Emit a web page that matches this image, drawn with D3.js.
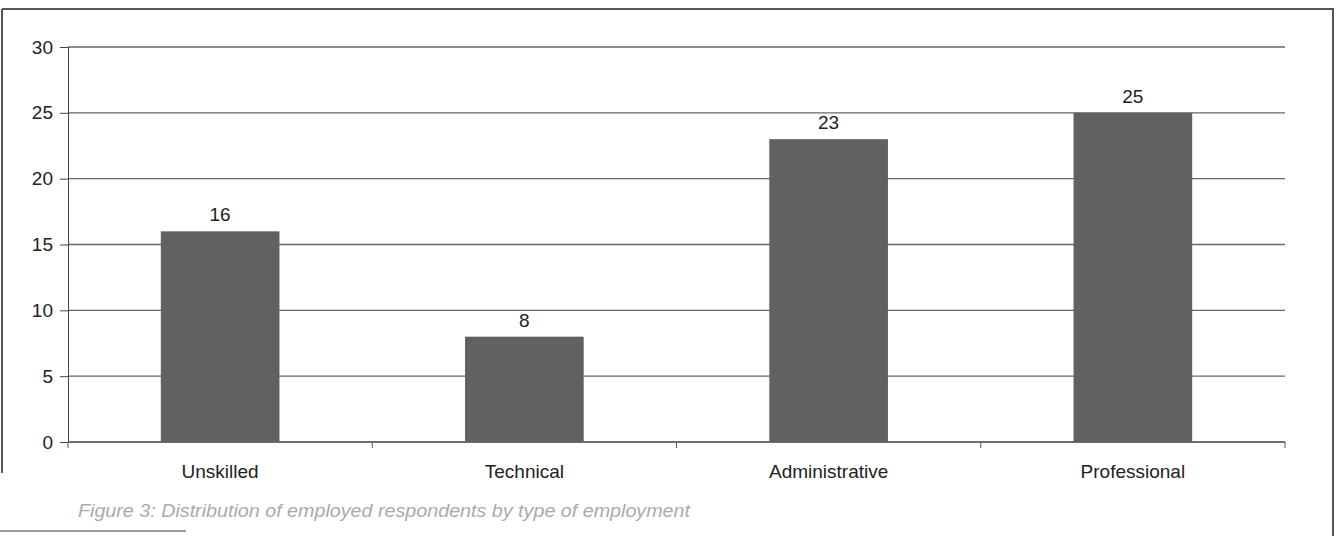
<!DOCTYPE html>
<html><head><meta charset="utf-8">
<script src="https://cdn.jsdelivr.net/npm/d3@7"></script>
<style>body{margin:0;background:#fff;}svg{display:block;font-family:"Liberation Sans",Arial,sans-serif;}</style>
</head><body><svg id="c" width="1341" height="536"></svg>
<script>
const categories = ["Unskilled","Technical","Administrative","Professional"];
const values = [16, 8, 23, 25];
const yTicks = [0,5,10,15,20,25,30];
const caption = "Figure 3: Distribution of employed respondents by type of employment";

const svg = d3.select("#c");
const m = {l:68, r:1285, t:47, b:442};
// frame
svg.append("line").attr("x1",2).attr("x2",1334).attr("y1",9).attr("y2",9).attr("stroke","#555").attr("stroke-width",2);
svg.append("line").attr("x1",2).attr("x2",2).attr("y1",9).attr("y2",473).attr("stroke","#555").attr("stroke-width",2);
svg.append("line").attr("x1",1333).attr("x2",1333).attr("y1",9).attr("y2",536).attr("stroke","#555").attr("stroke-width",2);
svg.append("line").attr("x1",0).attr("x2",186).attr("y1",531).attr("y2",531).attr("stroke","#777").attr("stroke-width",1.5);

const x = d3.scaleBand().domain(categories).range([m.l, m.r]).paddingInner(0.61).paddingOuter(0.305);
const xb = d3.scaleBand().domain(categories).range([m.l, m.r]);
const y = d3.scaleLinear().domain([0,30]).range([m.b, m.t]);

// gridlines
svg.append("g").selectAll("line").data(yTicks).join("line")
  .attr("x1",m.l).attr("x2",m.r).attr("y1",d=>y(d)).attr("y2",d=>y(d))
  .attr("stroke","#666").attr("stroke-width",1.4);

// y axis
const ya = svg.append("g").attr("transform",`translate(${m.l},0)`)
  .call(d3.axisLeft(y).tickValues(yTicks).tickSize(8).tickPadding(7));
ya.selectAll("path,line").attr("stroke","#444");
ya.selectAll("text").attr("font-size",19).attr("fill","#222").attr("font-family","Liberation Sans, Arial, sans-serif");

// x axis ticks at band edges
const edges = categories.map(c=>xb(c)).concat([m.r]);
svg.append("g").selectAll("line").data(edges).join("line")
  .attr("x1",d=>d).attr("x2",d=>d).attr("y1",m.b).attr("y2",m.b+6).attr("stroke","#555");
svg.append("line").attr("x1",m.l).attr("x2",m.r).attr("y1",m.b).attr("y2",m.b).attr("stroke","#666").attr("stroke-width",1.4);

// bars
svg.append("g").selectAll("rect").data(values).join("rect")
  .attr("x",(d,i)=>x(categories[i])).attr("width",x.bandwidth())
  .attr("y",d=>y(d)).attr("height",d=>y(0)-y(d)).attr("fill","#616161");

// value labels
svg.append("g").selectAll("text").data(values).join("text")
  .attr("x",(d,i)=>x(categories[i])+x.bandwidth()/2).attr("y",d=>y(d)-10)
  .attr("text-anchor","middle").attr("font-size",19).attr("fill","#222").text(d=>d);

// category labels
svg.append("g").selectAll("text").data(categories).join("text")
  .attr("x",d=>x(d)+x.bandwidth()/2).attr("y",478)
  .attr("text-anchor","middle").attr("font-size",19).attr("fill","#222").text(d=>d);

// caption
svg.append("text").attr("x",78).attr("y",517).attr("font-size",19).attr("font-style","italic")
  .attr("textLength",612).attr("lengthAdjust","spacingAndGlyphs")
  .attr("fill","#aaa").text(caption);
</script></body></html>
